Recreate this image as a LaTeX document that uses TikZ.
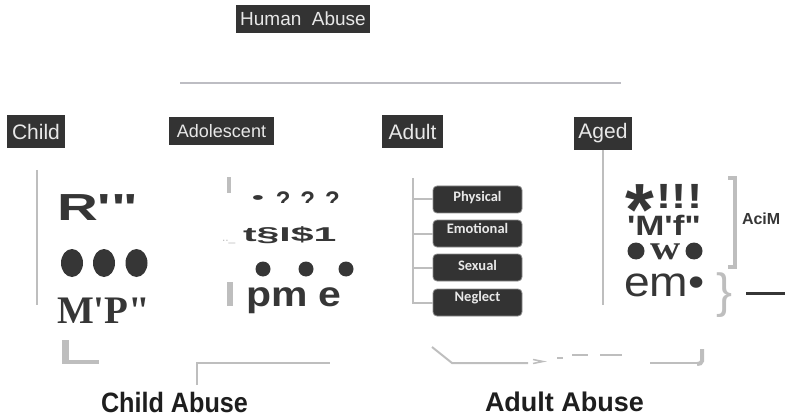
\documentclass[tikz,border=0pt]{standalone}
\usepackage{fontspec}
\setmainfont{Liberation Sans}
\newfontfamily\gsans{Liberation Sans}
\newfontfamily\gserif{Liberation Serif}
\newfontfamily\carl{Carlito}
\newcommand\fsz[1]{\fontsize{#1}{#1}\selectfont}
\definecolor{boxdark}{HTML}{333333}
\definecolor{boxtext}{HTML}{E8E8E8}
\definecolor{inkdark}{HTML}{363636}
\definecolor{titleink}{HTML}{1E1E1E}
\definecolor{rulegray}{HTML}{BDBDC3}
\definecolor{lgray}{HTML}{BEBEBE}
\definecolor{subedge}{HTML}{8C8C8C}
\begin{document}
\begin{tikzpicture}[x=1pt,y=-1pt,
  catbox/.style={fill=boxdark,text=boxtext,inner sep=0pt,outer sep=0pt,anchor=north west},
  subbox/.style={fill=boxdark,draw=subedge,line width=0.8pt,rounded corners=4pt,minimum width=89pt,minimum height=27pt,inner sep=0pt,text=boxtext,font=\carl\bfseries\fsz{14.5}},
  gline/.style={draw=lgray,line width=2pt},
  glyph/.style={inner sep=0pt,outer sep=0pt,anchor=base west,text=inkdark},
  bigtitle/.style={inner sep=0pt,outer sep=0pt,anchor=base west,text=titleink,font=\gsans\bfseries\fsz{28}}
]
\useasboundingbox (0,0) rectangle (785,417);

% ---- top ----
\node[catbox,minimum width=134pt,minimum height=28pt,font=\fsz{19}] (human) at (236,5) {Human\ \ Abuse};
\coordinate (hl) at (180,83);
\coordinate (hr) at (621,83);
\draw[draw=rulegray,line width=2pt] (hl) -- (hr);

% ---- category boxes ----
\node[catbox,minimum width=58pt,minimum height=33pt,font=\fsz{21}] (child) at (7,115) {Child};
\node[catbox,minimum width=105pt,minimum height=28pt,font=\fsz{18}] (adol) at (169,117) {Adolescent};
\node[catbox,minimum width=61pt,minimum height=33pt,font=\fsz{21}] (adult) at (382,115) {Adult};
\node[catbox,minimum width=58pt,minimum height=33pt,font=\fsz{21}] (aged) at (574,117) {Aged};

% ---- child column ----
\coordinate (cvt) at (37,170);
\coordinate (cvb) at (37,305);
\draw[gline] (cvt) -- (cvb);
\node[glyph,font=\gsans\bfseries\fsz{37.7}] (c1) at (57,220) {\scalebox{1.5}[1]{R'"}};
\fill[inkdark] (72,263) ellipse (11 and 14);
\fill[inkdark] (104,263) ellipse (11 and 14);
\fill[inkdark] (136.5,263) ellipse (11 and 14);
\node[glyph,font=\gserif\bfseries\fsz{39}] (c3) at (57,323) {M'P"};
\fill[lgray] (62,340) rectangle (69,363);
\fill[lgray] (62,360) rectangle (99,363.5);

% child abuse bracket
\coordinate (cb1) at (197,385);
\coordinate (cb2) at (197,363);
\coordinate (cb3) at (330,363);
\draw[gline] (cb1) -- (cb2) -- (cb3);
\node[bigtitle] (cabuse) at (101,412) {\scalebox{0.9}[1]{Child Abuse}};

% ---- adolescent column ----
\fill[lgray] (227,177) rectangle (231,193);
\begin{scope}
  \clip (245,185) rectangle (345,203.7);
  \node[glyph,font=\gsans\bfseries\fsz{24}] (a1) at (252,208) {\raisebox{4.5pt}{\scalebox{1.4}[0.7]{•}}\hspace{12pt}?\hspace{10pt}?\hspace{10pt}?};
\end{scope}
\node[glyph,text=lgray,font=\gsans\fsz{12}] (a2a) at (222,241) {..\_};
\node[glyph,font=\gsans\bfseries\fsz{20}] (a2) at (243,241) {\scalebox{2.05}[1]{t§I\$1}};
\fill[inkdark] (263,269) circle (7.5);
\fill[inkdark] (306,269) circle (7.5);
\fill[inkdark] (346,269) circle (7.5);
\fill[lgray] (227,282) rectangle (233,306);
\node[glyph,font=\gsans\bfseries\fsz{35}] (a4) at (246,306) {\scalebox{1.17}[1]{pm e}};

% ---- adult column ----
\node[subbox] (phys) at (477.5,199.5) {\raisebox{-2.2pt}[0pt][0pt]{Physical}};
\node[subbox] (emo) at (477.5,233.5) {\raisebox{0.2pt}[0pt][0pt]{Emotional}};
\node[subbox] (sex) at (477.5,267.5) {\raisebox{-3.2pt}[0pt][0pt]{Sexual}};
\node[subbox] (neg) at (477.5,302.5) {\raisebox{0.8pt}[0pt][0pt]{Neglect}};
\coordinate (atop) at (413,178);
\draw[gline] (atop) |- (neg.west);
\draw[gline] (atop |- phys.west) -- (phys.west);
\draw[gline] (atop |- emo.west) -- (emo.west);
\draw[gline] (atop |- sex.west) -- (sex.west);

% adult abuse bracket
\coordinate (ab1) at (432,347);
\coordinate (ab2) at (452,363);
\coordinate (ab3) at (528,363);
\draw[gline] (ab1) -- (ab2) -- (ab3);
\draw[draw=lgray,line width=1.5pt] (533,359.5) -- (543,361.5) -- (533,363.5);
\draw[gline] (557,358) -- (563,358);
\draw[gline] (572,355) -- (588,355);
\draw[gline] (600,355) -- (622,355);
\coordinate (ab4) at (650,363);
\coordinate (ab5) at (699,363);
\draw[gline] (ab4) -- (ab5);
\draw[draw=lgray,line width=4pt] (702,349) -- (702,361) to[out=-90,in=0] (697,364);
\node[bigtitle,font=\gsans\bfseries\fsz{27}] (aabuse) at (485,411.5) {Adult Abuse};

% ---- aged column ----
\coordinate (agb) at (603,305);
\draw[gline] (aged.south) -- (agb);
\node[glyph,font=\gsans\bfseries\fsz{35}] (g1) at (625,208) {{\fsz{74}\raisebox{-27pt}[0pt][0pt]{*}}\hspace{3pt}\scalebox{1.3}[1]{!!!}};
\node[glyph,font=\gsans\bfseries\fsz{28}] (g2) at (627,236) {\scalebox{1.25}[1]{'M'f"}};
\fill[inkdark] (636,251) circle (8.5);
\fill[inkdark] (694,251) circle (8.5);
\node[glyph,font=\gserif\bfseries\fsz{38}] (g3) at (650,259) {\scalebox{1.1}[0.9]{w}};
\node[glyph,font=\gsans\fsz{42}] (g4) at (624,296) {\scalebox{1.1}[1]{em•}};
\draw[draw=lgray,line width=3.5pt] (728,178) -- (735,178) -- (735,267) -- (728,267);
\node[glyph,text=lgray,font=\gsans\fsz{48}] (brace) at (716,307) {\}};
\node[glyph,font=\gsans\bfseries\fsz{16}] (acim) at (742,224) {AciM};
\coordinate (dl1) at (746,293);
\coordinate (dl2) at (785,293);
\draw[draw=inkdark,line width=3pt] (dl1) -- (dl2);
\end{tikzpicture}
\end{document}
